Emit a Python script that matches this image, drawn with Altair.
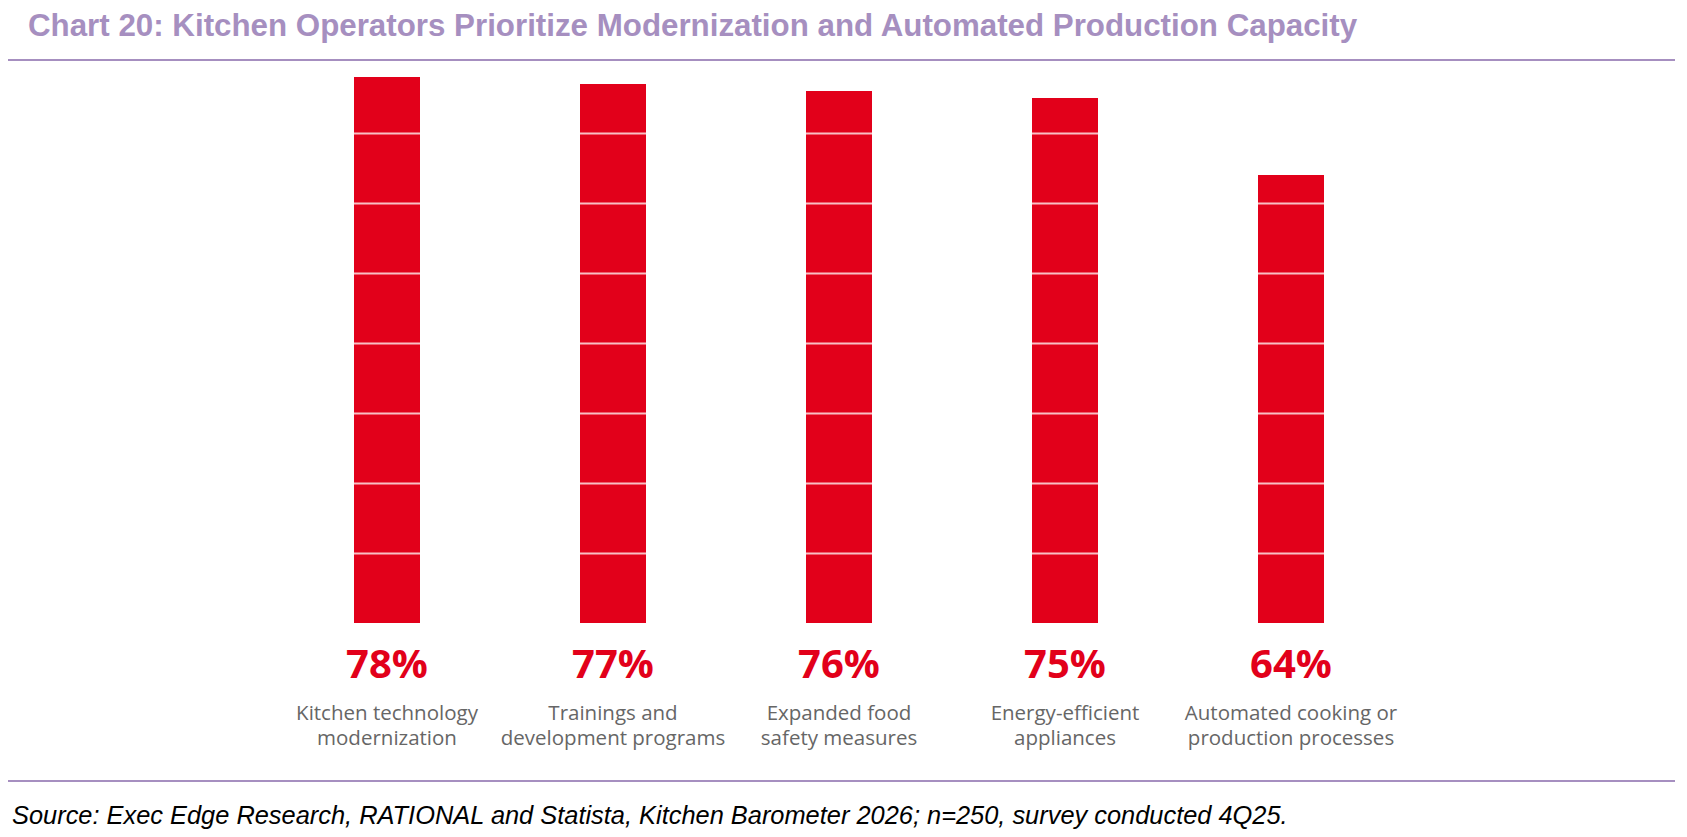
import altair as alt
import pandas as pd

# values
categories = [
    "Kitchen technology\nmodernization",
    "Trainings and\ndevelopment programs",
    "Expanded food\nsafety measures",
    "Energy-efficient\nappliances",
    "Automated cooking or\nproduction processes",
]
shares = [78, 77, 76, 75, 64]
grid_values = [10, 20, 30, 40, 50, 60, 70]

title_text = "Chart 20: Kitchen Operators Prioritize Modernization and Automated Production Capacity"
source_text = "Source: Exec Edge Research, RATIONAL and Statista, Kitchen Barometer 2026; n=250, survey conducted 4Q25."

RED = "#E2001A"
LAVENDER = "#A68FC0"

df = pd.DataFrame({"category": categories, "share": shares})
df["label"] = df["share"].astype(str) + "%"

x_enc = alt.X(
    "category:N",
    sort=categories,
    scale=alt.Scale(paddingInner=0, paddingOuter=0),
    axis=None,
)

base = alt.Chart(df)

bars = base.mark_bar(color=RED, size=66).encode(
    x=x_enc,
    y=alt.Y(
        "share:Q",
        scale=alt.Scale(domain=[0, 80], nice=False),
        axis=alt.Axis(
            values=grid_values,
            grid=True,
            gridColor="white",
            gridOpacity=0.75,
            gridWidth=2,
            zindex=1,
            labels=False,
            ticks=False,
            domain=False,
            title=None,
        ),
    ),
)

pct = base.mark_text(
    color=RED, font="Open Sans", fontWeight="bold", fontSize=40, baseline="alphabetic"
).encode(x=x_enc, y=alt.value(615), text="label:N")

cats = base.mark_text(
    color="#666666", font="Open Sans", fontSize=20.5, lineBreak="\n",
    lineHeight=25, baseline="alphabetic",
).encode(x=x_enc, y=alt.value(657), text="category:N")

top_line = alt.Chart(df.head(1)).mark_rule(color=LAVENDER, strokeWidth=2).encode(
    x=alt.value(-266), x2=alt.value(1401), y=alt.value(-3)
)
bottom_line = alt.Chart(df.head(1)).mark_rule(color=LAVENDER, strokeWidth=2).encode(
    x=alt.value(-266), x2=alt.value(1401), y=alt.value(718)
)

title = alt.Chart(df.head(1)).mark_text(
    text=title_text, color=LAVENDER, font="Liberation Sans", fontWeight="bold",
    fontSize=31.3, align="left", baseline="alphabetic",
).encode(x=alt.value(-246), y=alt.value(-27))

source = alt.Chart(df.head(1)).mark_text(
    text=source_text, color="black", font="Liberation Sans", fontStyle="italic",
    fontSize=25.4, align="left", baseline="alphabetic",
).encode(x=alt.value(-262), y=alt.value(761))

chart = (
    alt.layer(bars, pct, cats, top_line, bottom_line, title, source)
    .properties(
        width=1130,
        height=560,
        autosize=alt.AutoSizeParams(type="none"),
        padding={"left": 266, "top": 55, "right": 272, "bottom": 210},
    )
    .configure(background="white")
    .configure_view(stroke="transparent", strokeWidth=0)
)

chart.save("out.html", embed_options={"renderer": "svg", "actions": False})
